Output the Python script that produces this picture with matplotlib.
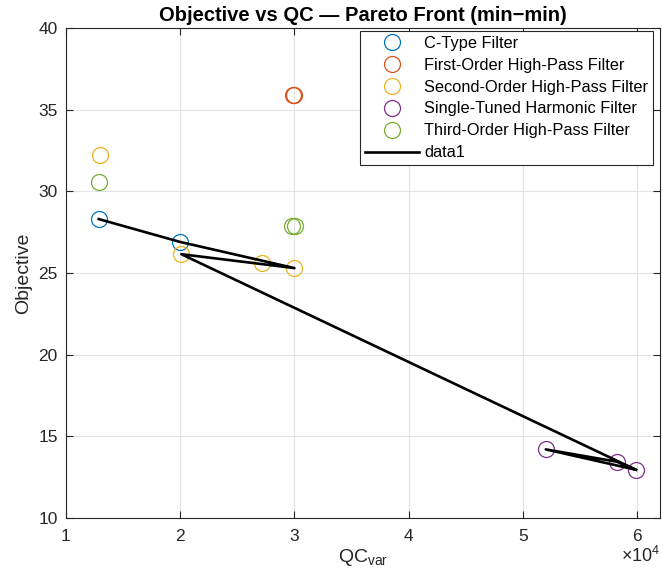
import numpy as np
import matplotlib.pyplot as plt

plt.rcParams['font.family'] = ['Liberation Sans', 'DejaVu Sans']

FILTERS = ["C-Type Filter", "First-Order High-Pass Filter", "Second-Order High-Pass Filter",
           "Single-Tuned Harmonic Filter", "Third-Order High-Pass Filter"]
COLORS = ["#0072BD", "#D95319", "#EDB120", "#7E2F8E", "#77AC30"]

# QC_var and objective per filter type
ctype_qc = [12870, 20000]
ctype_obj = [28.3, 26.9]
first_qc = [29900, 29980]
first_obj = [35.9, 35.9]
second_qc = [13000, 20100, 27200, 30000]
second_obj = [32.2, 26.15, 25.6, 25.3]
single_qc = [52000, 58200, 59900]
single_obj = [14.2, 13.45, 12.95]
third_qc = [12900, 29800, 30050]
third_obj = [30.55, 27.85, 27.85]

# pareto front line (data1)
front_qc = [12870, 20000, 30000, 20100, 59900, 52000, 58200, 59900]
front_obj = [28.3, 26.9, 25.3, 26.15, 12.95, 14.2, 13.45, 12.95]

xticks = [10000, 20000, 30000, 40000, 50000, 60000]
xticklabels = ["1", "2", "3", "4", "5", "6"]
yticks = [10, 15, 20, 25, 30, 35, 40]

fig = plt.figure(figsize=(6.63, 5.83), dpi=100)
ax = fig.add_axes([0.0995, 0.1115, 0.896, 0.8405])

groups = [(ctype_qc, ctype_obj), (first_qc, first_obj), (second_qc, second_obj),
          (single_qc, single_obj), (third_qc, third_obj)]
for (qc, obj), name, c in zip(groups, FILTERS, COLORS):
    ax.plot(qc, obj, 'o', mfc='none', mec=c, ms=11.5, mew=0.9, label=name, zorder=3)

ax.plot(front_qc, front_obj, '-', color='k', lw=1.9, label="data1", zorder=4)

ax.set_xlim(10000, 62000)
ax.set_ylim(10, 40)
ax.set_xticks(xticks)
ax.set_xticklabels(xticklabels)
ax.set_yticks(yticks)
ax.grid(True, color='#e3e3e3', lw=0.8)
ax.set_axisbelow(True)
ax.tick_params(direction='in', top=True, right=True, labelsize=12.5, colors='#262626', length=5)
ax.tick_params(axis='x', pad=8)
ax.tick_params(axis='y', pad=6)
for s in ax.spines.values():
    s.set_color('#262626')
    s.set_linewidth(0.8)

ax.set_title("Objective vs QC — Pareto Front (min−min)", fontsize=14.5, fontweight='bold', pad=5)
ax.set_xlabel("QC$_{\\mathregular{var}}$", fontsize=14, color='#262626', labelpad=2)
ax.set_ylabel("Objective", fontsize=14, color='#262626', labelpad=4)
ax.text(1.0, -0.057, "×10$^{\\mathregular{4}}$", transform=ax.transAxes, ha='right', va='top',
        fontsize=13, color='#262626')

leg = ax.legend(loc='upper right', bbox_to_anchor=(0.988, 0.994), borderaxespad=0,
                fontsize=11.8, handlelength=3.3, handletextpad=0.3, fancybox=False,
                framealpha=1, edgecolor='#262626', labelspacing=0.42, borderpad=0.3)
leg.get_frame().set_linewidth(0.8)

fig.savefig("out.png", dpi=100)
